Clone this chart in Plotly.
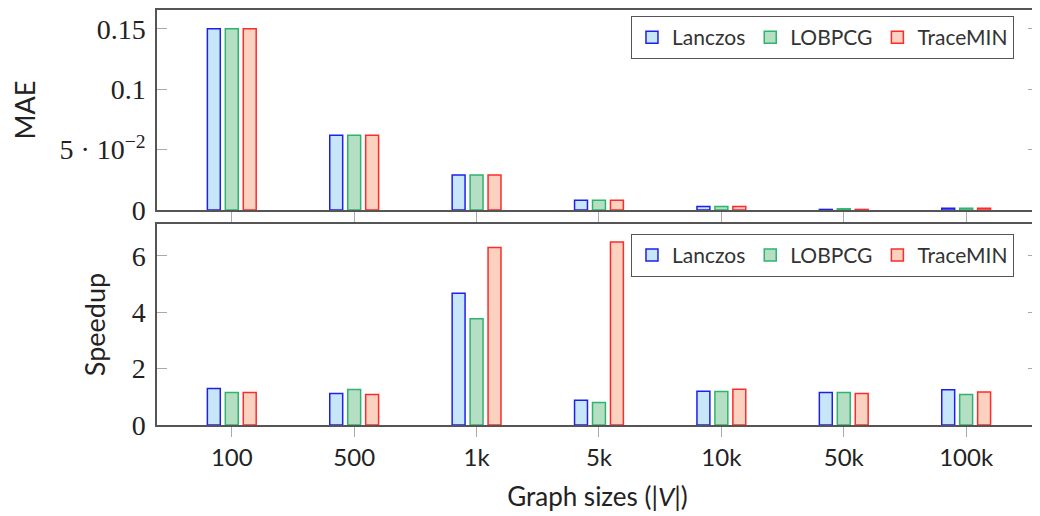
import plotly.graph_objects as go

categories = ["100", "500", "1k", "5k", "10k", "50k", "100k"]
series = ["Lanczos", "LOBPCG", "TraceMIN"]
mae_lanczos = [0.150, 0.062, 0.029, 0.008, 0.003, 0.0005, 0.0015]
mae_lobpcg = [0.150, 0.062, 0.029, 0.008, 0.003, 0.001, 0.0015]
mae_tracemin = [0.150, 0.062, 0.029, 0.008, 0.003, 0.0005, 0.0015]
speed_lanczos = [1.29, 1.12, 4.67, 0.88, 1.20, 1.15, 1.25]
speed_lobpcg = [1.15, 1.26, 3.77, 0.80, 1.19, 1.15, 1.08]
speed_tracemin = [1.15, 1.08, 6.29, 6.49, 1.27, 1.12, 1.17]
mae_ticks = [0, 0.05, 0.1, 0.15]
mae_ticktext = ["0", "5 · 10<sup>−2</sup>", "0.1", "0.15"]
speed_ticks = [0, 2, 4, 6]

fills = ["#c7e6f8", "#b4dfc2", "#fbd2bf"]
lines = ["#1f1ff0", "#2fb36e", "#ff2a2a"]

mae = [mae_lanczos, mae_lobpcg, mae_tracemin]
speed = [speed_lanczos, speed_lobpcg, speed_tracemin]

fig = go.Figure()
for i, name in enumerate(series):
    fig.add_trace(go.Bar(x=categories, y=mae[i], name=name, xaxis="x", yaxis="y",
                         marker=dict(color=fills[i], line=dict(color=lines[i], width=1.5)),
                         legend="legend", offsetgroup=str(i)))
for i, name in enumerate(series):
    fig.add_trace(go.Bar(x=categories, y=speed[i], name=name, xaxis="x2", yaxis="y2",
                         marker=dict(color=fills[i], line=dict(color=lines[i], width=1.5)),
                         legend="legend2", offsetgroup=str(i)))

serif = "Liberation Serif, DejaVu Serif, serif"
sans = "Lato, Open Sans, DejaVu Sans, sans-serif"
axcol = "#555555"
tickcol = "#aaaaaa"

xcommon = dict(type="category", range=[-0.611, 6.587], showline=True, linecolor=axcol, linewidth=1.5,
               mirror=True, ticks="outside", ticklen=10, tickcolor=tickcol, tickwidth=1.2,
               showgrid=False, zeroline=False)
ycommon = dict(showline=True, linecolor=axcol, linewidth=1.5, mirror="ticks", ticks="inside",
               ticklen=10, tickcolor=tickcol, tickwidth=1.2, showgrid=False, zeroline=False,
               ticklabelstandoff=4,
               tickfont=dict(family=serif, size=28, color="#222"))

legend_common = dict(orientation="h", bgcolor="white", bordercolor=axcol, borderwidth=1,
                     font=dict(family=sans, size=21, color="#333"), xanchor="left", yanchor="top",
                     traceorder="normal", itemwidth=30)

# the page body adds an 8px margin on the left and top, so the figure is 8px smaller
fig.update_layout(
    width=1032, height=508,
    margin=dict(l=149, r=0, t=0, b=91),
    paper_bgcolor="white", plot_bgcolor="white",
    barmode="group", bargap=0.56, bargroupgap=0.28,
    xaxis=dict(**xcommon, domain=[0, 1], anchor="y", showticklabels=False),
    yaxis=dict(**ycommon, domain=[0.518, 1], anchor="x", range=[0, 0.1656],
               tickvals=mae_ticks, ticktext=mae_ticktext,
               title=dict(text="MAE", font=dict(family=sans, size=27, color="#222"), standoff=18)),
    xaxis2=dict(**xcommon, domain=[0, 1], anchor="y2",
                tickfont=dict(family=sans, size=24, color="#222"),
                title=dict(text="Graph sizes (|<i>V</i>|)", font=dict(family=sans, size=26, color="#222"),
                           standoff=18)),
    yaxis2=dict(**ycommon, domain=[0, 0.4844], anchor="x2", range=[0, 7.125],
                tickvals=speed_ticks,
                title=dict(text="Speedup", font=dict(family=sans, size=27, color="#222"), standoff=18)),
    legend=dict(**legend_common, x=0.538, y=0.9856),
    legend2=dict(**legend_common, x=0.538, y=0.4604),
)

fig.write_html("out.html")
